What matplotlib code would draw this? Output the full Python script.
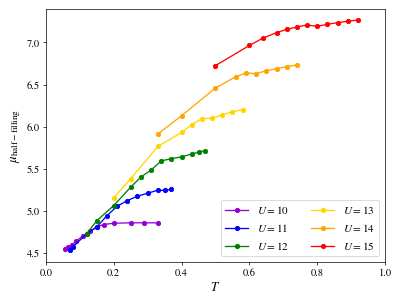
import numpy as np
import matplotlib
matplotlib.use("Agg")
import matplotlib.pyplot as plt

plt.rcParams["font.family"] = "STIXGeneral"
plt.rcParams["mathtext.fontset"] = "stix"
plt.rcParams["font.size"] = 12

# U = 10 ... 15
T10 = [0.056, 0.066, 0.078, 0.088, 0.108, 0.13, 0.15, 0.17, 0.20, 0.25, 0.29, 0.33]
mu10 = [4.55, 4.57, 4.60, 4.64, 4.70, 4.76, 4.81, 4.84, 4.855, 4.86, 4.86, 4.86]

T11 = [0.07, 0.08, 0.12, 0.15, 0.18, 0.21, 0.24, 0.27, 0.30, 0.33, 0.35, 0.37]
mu11 = [4.54, 4.575, 4.73, 4.81, 4.945, 5.056, 5.124, 5.176, 5.211, 5.247, 5.244, 5.256]

T12 = [0.12, 0.15, 0.20, 0.25, 0.28, 0.31, 0.34, 0.37, 0.40, 0.43, 0.45, 0.47]
mu12 = [4.73, 4.885, 5.065, 5.283, 5.403, 5.486, 5.594, 5.622, 5.642, 5.677, 5.698, 5.718]

T13 = [0.20, 0.25, 0.33, 0.40, 0.43, 0.46, 0.49, 0.52, 0.55, 0.58]
mu13 = [5.156, 5.384, 5.766, 5.933, 6.024, 6.096, 6.100, 6.143, 6.176, 6.204]

T14 = [0.33, 0.40, 0.50, 0.56, 0.59, 0.62, 0.65, 0.68, 0.71, 0.74]
mu14 = [5.913, 6.131, 6.459, 6.594, 6.638, 6.630, 6.665, 6.689, 6.713, 6.733]

T15 = [0.50, 0.60, 0.64, 0.68, 0.71, 0.74, 0.77, 0.80, 0.83, 0.86, 0.89, 0.92]
mu15 = [6.725, 6.964, 7.051, 7.116, 7.155, 7.183, 7.207, 7.191, 7.215, 7.235, 7.251, 7.266]

Us = [10, 11, 12, 13, 14, 15]
colors = ["darkviolet", "blue", "green", "gold", "orange", "red"]
series = [(T10, mu10), (T11, mu11), (T12, mu12), (T13, mu13), (T14, mu14), (T15, mu15)]

fig, ax = plt.subplots(figsize=(6.4, 4.8), dpi=399 / 6.4)
fig.subplots_adjust(left=0.115, right=0.965, top=0.970, bottom=0.125)

for U, c, (T, mu) in zip(Us, colors, series):
    ax.plot(T, mu, "-o", color=c, markersize=5, linewidth=1.5, label=rf"$U={U}$")

ax.set_xlim(0.0, 1.0)
ax.set_ylim(4.40, 7.40)
ax.set_xlabel(r"$T$", fontsize=15)
ax.set_ylabel(r"$\mu_{\rm half-filling}$", fontsize=15)
ax.legend(loc="lower right", ncol=2, fontsize=13)

fig.savefig("out.png", dpi=399 / 6.4)
